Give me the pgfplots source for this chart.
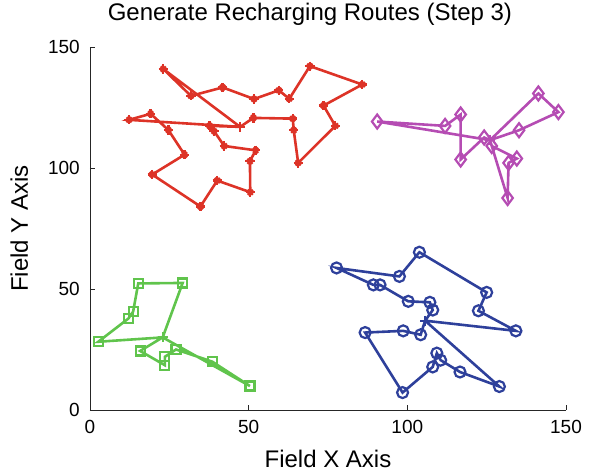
\documentclass[border=0pt]{standalone}
\usepackage{pgfplots}
\pgfplotsset{compat=1.18}
\usepackage{fontspec}
\setmainfont{Liberation Sans}
\definecolor{cred}{RGB}{221,51,39}
\definecolor{cmag}{RGB}{181,76,179}
\definecolor{cgreen}{RGB}{96,196,76}
\definecolor{cblue}{RGB}{46,64,155}
\pgfplotstableread{
x y
23.1 140.9
31.8 129.8
41.8 133.3
51.7 128.5
59.5 132.1
62.8 128.6
69.3 142.1
85.8 134.5
73.6 125.8
77.3 117.4
65.6 102.1
64.2 115.6
63.9 120.4
51.5 120.7
37.7 117.4
39.1 115.2
42.3 109.1
52.2 107.3
50.4 102.8
50.5 90.0
40.1 94.8
34.8 84.1
19.6 97.3
29.8 105.5
24.7 115.7
19.1 122.4
12.3 119.9
}\redpts
\usepackage{pgfplotstable}
\begin{document}
\begin{tikzpicture}
\path[use as bounding box] (-90bp,-64bp) rectangle (499bp,410bp);
\begin{axis}[
  at={(0,0)}, anchor=south west,
  scale only axis, width=476bp, height=363bp,
  xmin=0, xmax=150, ymin=0, ymax=150,
  xtick={0,50,100,150}, ytick={0,50,100,150},
  axis lines=left, axis line style={-, line width=0.8bp, black!85},
  tick align=inside, major tick length=5bp, tick style={line width=0.8bp, black!85},
  /pgf/number format/assume math mode=true,
  ticklabel style={font=\fontsize{19bp}{19bp}\selectfont},
  xticklabel style={anchor=base, yshift=-23bp, inner sep=0pt},
  yticklabel style={anchor=east, inner sep=0pt, xshift=-10bp},
  xlabel={Field X Axis}, ylabel={Field Y Axis},
  label style={font=\fontsize{24bp}{24bp}\selectfont},
  xlabel style={at={(axis description cs:0.5,0)}, anchor=base, yshift=-57bp},
  ylabel style={at={(axis description cs:-0.1303,0.5)}, anchor=base},
  title={Generate Recharging Routes (Step 3)},
  title style={font=\fontsize{24bp}{24bp}\selectfont, at={(axis description cs:0.462,1.056)}, anchor=base},
  clip=false,
]
% ---------- red cluster ----------
\addplot[cred, line width=2.6bp, no marks] coordinates {
(47.3,117) (23.1,140.9) (31.8,129.8) (41.8,133.3) (51.7,128.5) (59.5,132.1) (62.8,128.6)
(69.3,142.1) (85.8,134.5) (73.6,125.8) (77.3,117.4) (65.6,102.1) (64.2,115.6) (63.9,120.4)
(51.5,120.7) (47.3,117) (37.7,117.4) (39.1,115.2) (42.3,109.1) (52.2,107.3) (50.4,102.8)
(50.5,90.0) (40.1,94.8) (34.8,84.1) (19.6,97.3) (29.8,105.5) (24.7,115.7) (19.1,122.4)
(12.3,119.9) (47.3,117)};
\addplot[cred, only marks, mark=+, mark size=4.6bp, mark options={line width=2.3bp}] table {\redpts};
\addplot[cred, only marks, mark=x, mark size=3.6bp, mark options={line width=2.3bp}] table {\redpts};
\addplot[cred, only marks, mark=+, mark size=5bp, mark options={line width=2bp}] coordinates {(47.3,117)};
% ---------- magenta cluster ----------
\addplot[cmag, line width=2.6bp, no marks] coordinates {
(126.05,111.5) (90.5,119.2) (111.9,117.4) (116.8,122.1) (116.8,103.5) (124.2,112.6)
(126.05,111.5) (141.3,130.8) (147.6,123.1) (135.2,115.6) (126.05,111.5) (126.6,109.1)
(134.5,103.9) (131.9,102.1) (131.6,87.6) (126.05,111.5)};
\addplot[cmag, only marks, mark=diamond, mark size=7bp, mark options={line width=2.2bp}] coordinates {
(90.5,119.2) (111.9,117.4) (116.8,122.1) (116.8,103.5) (124.2,112.6) (126.6,109.1)
(135.2,115.6) (141.3,130.8) (147.6,123.1) (134.5,103.9) (131.9,102.1) (131.6,87.6)};
\addplot[cmag, only marks, mark=+, mark size=5bp, mark options={line width=2bp}] coordinates {(126.05,111.5)};
% ---------- green cluster ----------
\addplot[cgreen, line width=2.6bp, no marks] coordinates {
(22.9,30.0) (2.6,28.2) (12.1,37.8) (13.6,40.7) (15.2,52.3) (29.2,52.5) (22.9,30.0)
(15.8,24.4) (23.6,18.5) (23.6,22.0) (27.1,25.0) (38.5,20.0) (50.4,9.9) (22.9,30.0)};
\addplot[cgreen, only marks, mark=square, mark size=4.5bp, mark options={line width=2.2bp}] coordinates {
(15.2,52.3) (29.2,52.5) (13.6,40.7) (12.1,37.8) (2.6,28.2) (15.8,24.4) (23.6,22.0)
(23.6,18.5) (27.1,25.0) (38.5,20.0) (50.4,9.9)};
\addplot[cgreen, only marks, mark=+, mark size=5bp, mark options={line width=2bp}] coordinates {(22.9,30.0)};
% ---------- blue cluster ----------
\addplot[cblue, line width=2.6bp, no marks] coordinates {
(105.6,36.9) (108.0,41.3) (107.1,44.5) (100.3,44.9) (91.4,51.7) (89.3,51.7) (77.7,58.7)
(97.5,55.2) (103.8,65.2) (125.0,48.6) (122.4,41.0) (134.2,32.7) (105.6,36.9)
(104.2,31.1) (98.7,32.7) (86.7,32.0) (98.5,7.2) (108.0,17.8) (109.3,23.5) (110.5,20.6)
(116.6,15.7) (129.0,9.7) (105.6,36.9)};
\addplot[cblue, only marks, mark=o, mark size=5.5bp, mark options={line width=2.2bp}] coordinates {
(77.7,58.7) (97.5,55.2) (103.8,65.2) (125.0,48.6) (122.4,41.0) (134.2,32.7) (89.3,51.7)
(91.4,51.7) (100.3,44.9) (107.1,44.5) (108.0,41.3) (86.7,32.0) (98.7,32.7) (104.2,31.1)
(98.5,7.2) (108.0,17.8) (109.3,23.5) (110.5,20.6) (116.6,15.7) (129.0,9.7)};
\addplot[cblue, only marks, mark=+, mark size=5bp, mark options={line width=2bp}] coordinates {(105.6,36.9)};
\end{axis}
\end{tikzpicture}
\end{document}
